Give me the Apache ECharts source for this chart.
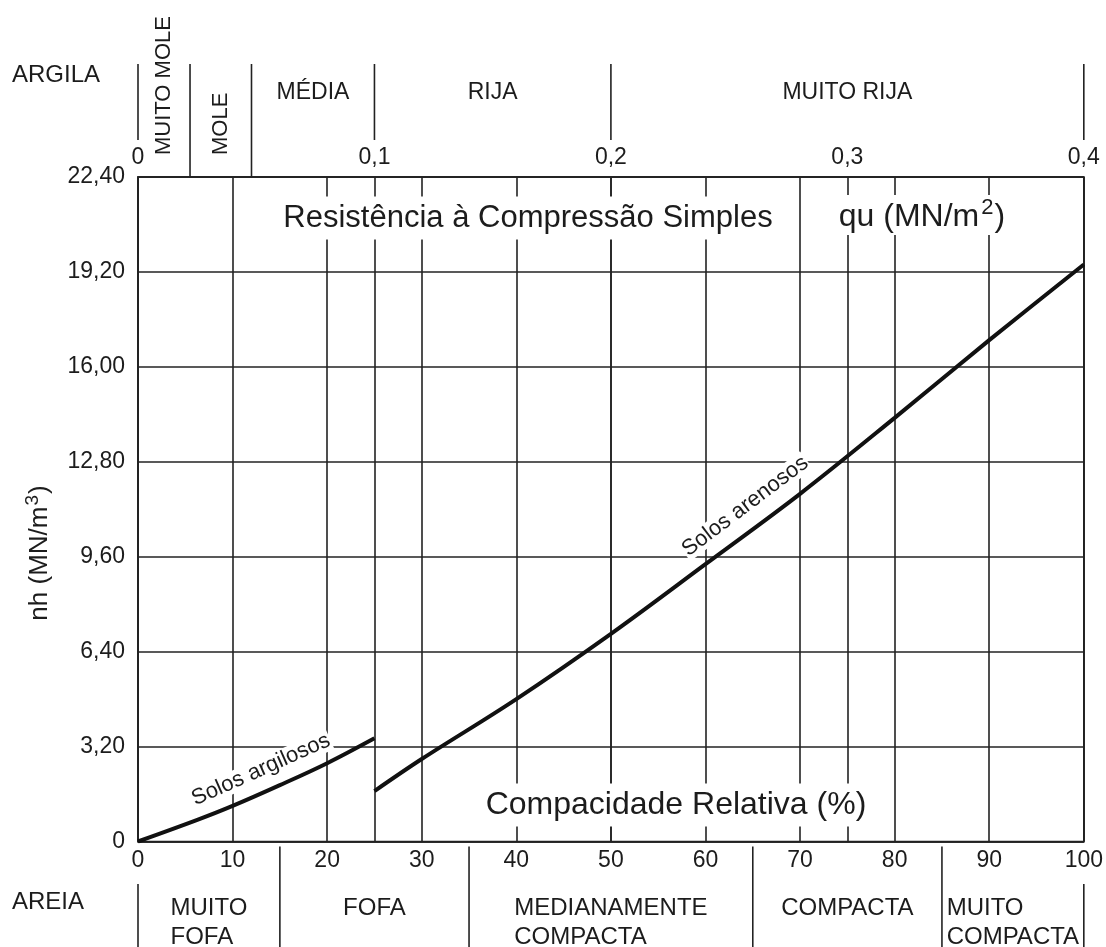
<!DOCTYPE html>
<html>
<head>
<meta charset="utf-8">
<script src="https://cdn.jsdelivr.net/npm/echarts@6/dist/echarts.min.js"></script>
<style>
  html, body { margin: 0; padding: 0; background: #fff; }
  #chart { width: 1106px; height: 947px; }
</style>
</head>
<body>
<div id="chart"></div>
<script>
// Compacidade relativa (%) -> nh (MN/m3)
const argilososX = [0, 6.2, 10, 15, 20, 25];
const argilososY = [0, 0.72, 1.20, 1.90, 2.64, 3.48];
const arenososX = [25, 30, 40, 50, 60, 70, 80, 90, 100];
const arenososY = [1.70, 2.78, 4.80, 7.00, 9.35, 11.72, 14.28, 16.90, 19.45];

// tick labels
const yTickLabels = ['0', '3,20', '6,40', '9,60', '12,80', '16,00', '19,20', '22,40'];
const xTickLabels = ['0', '10', '20', '30', '40', '50', '60', '70', '80', '90', '100'];
const quTickLabels = ['0', '0,1', '0,2', '0,3', '0,4'];

// consistency classes (argila, by qu in MN/m2) and compactness classes (areia, by %)
const argilaLimites = [0, 0.022, 0.048, 0.1, 0.2, 0.4];
const argilaClasses = ['MUITO MOLE', 'MOLE', 'MÉDIA', 'RIJA', 'MUITO RIJA'];
const areiaLimites = [0, 15, 35, 65, 85, 100];
const areiaClasses = [['MUITO', 'FOFA'], ['FOFA'], ['MEDIANAMENTE', 'COMPACTA'], ['COMPACTA'], ['MUITO', 'COMPACTA']];

const FONT = '"Liberation Sans", Arial, Helvetica, sans-serif';
const INK = '#1c1c1c';
const GRID = '#222222';

const chart = echarts.init(document.getElementById('chart'), null, { renderer: 'canvas' });

const axisLineStyle = { color: GRID, width: 1.6 };
const tickFont = { fontSize: 23, color: INK, fontFamily: FONT };

chart.setOption({
  backgroundColor: '#ffffff',
  animation: false,
  grid: {
    left: 138, right: 21, top: 177, bottom: 105.5,
    show: true, borderColor: GRID, borderWidth: 1.6, backgroundColor: 'transparent'
  },
  xAxis: [
    {
      type: 'value', min: 0, max: 100, interval: 10, position: 'bottom',
      axisLine: { show: true, lineStyle: axisLineStyle },
      axisTick: { show: false },
      axisLabel: Object.assign({ margin: 8, formatter: v => xTickLabels[Math.round(v / 10)] }, tickFont),
      splitLine: { show: true, lineStyle: axisLineStyle }
    },
    {
      type: 'value', min: 0, max: 0.4, interval: 0.1, position: 'top',
      axisLine: { show: true, lineStyle: axisLineStyle },
      axisTick: { show: false },
      axisLabel: Object.assign({ margin: 8, formatter: v => quTickLabels[Math.round(v * 10)] }, tickFont),
      splitLine: { show: true, lineStyle: axisLineStyle }
    }
  ],
  yAxis: {
    type: 'value', min: 0, max: 22.4, interval: 3.2,
    axisLine: { show: true, lineStyle: axisLineStyle },
    axisTick: { show: false },
    axisLabel: Object.assign({ margin: 13, formatter: v => yTickLabels[Math.round(v / 3.2)] }, tickFont),
    splitLine: { show: true, lineStyle: axisLineStyle }
  },
  series: [
    {
      name: 'Solos argilosos', type: 'line', xAxisIndex: 0, yAxisIndex: 0,
      data: argilososX.map((x, i) => [x, argilososY[i]]),
      smooth: 0.35, symbol: 'none', z: 5,
      lineStyle: { color: '#111', width: 4 }
    },
    {
      name: 'Solos arenosos', type: 'line', xAxisIndex: 0, yAxisIndex: 0,
      data: arenososX.map((x, i) => [x, arenososY[i]]),
      smooth: 0.35, symbol: 'none', z: 5,
      lineStyle: { color: '#111', width: 4 }
    }
  ]
});

// pixel helpers through the chart's own scales
const px = v => chart.convertToPixel({ xAxisIndex: 0 }, v);
const qx = v => chart.convertToPixel({ xAxisIndex: 1 }, v);
const py = v => chart.convertToPixel({ yAxisIndex: 0 }, v);
const plotTop = py(22.4);
const plotBottom = py(0);

const measureCtx = document.createElement('canvas').getContext('2d');
function textWidth(s, size) {
  measureCtx.font = size + 'px ' + FONT;
  return measureCtx.measureText(s).width;
}

function line(x, y1, y2) {
  return {
    type: 'line', z: 50, silent: true,
    shape: { x1: x, y1: y1, x2: x, y2: y2 },
    style: { stroke: GRID, lineWidth: 1.6 }
  };
}

function label(x, y, text, size, extra) {
  return Object.assign({
    type: 'text', x: x, y: y, z: 60, silent: true,
    style: Object.assign({
      text: text, fontSize: size, fontFamily: FONT, fill: INK,
      align: 'center', verticalAlign: 'middle'
    }, (extra && extra.style) || {})
  }, extra ? { rotation: extra.rotation || 0 } : {});
}

const graphics = [];

// ARGILA band above the plot
graphics.push(label(12, 75, 'ARGILA', 24, { style: { align: 'left' } }));
argilaLimites.forEach(b => {
  const onTick = Math.abs(b * 10 - Math.round(b * 10)) < 1e-9;
  graphics.push(line(qx(b), 64, onTick ? 140 : plotTop));
});
argilaClasses.forEach((name, i) => {
  const x0 = qx(argilaLimites[i]), x1 = qx(argilaLimites[i + 1]);
  const cx = (x0 + x1) / 2;
  if (x1 - x0 < 80) {
    graphics.push(label(cx, 155, name, 22, { rotation: Math.PI / 2, style: { align: 'left' } }));
  } else {
    graphics.push(label(cx, 93, name, 23));
  }
});

// AREIA band below the plot
graphics.push(label(12, 902, 'AREIA', 24, { style: { align: 'left' } }));
areiaLimites.forEach(b => {
  const onTick = b % 10 === 0;
  graphics.push(line(px(b), onTick ? 884 : plotBottom + 5, 947));
});
areiaClasses.forEach((lines, i) => {
  const cx = (px(areiaLimites[i]) + px(areiaLimites[i + 1])) / 2;
  const w = Math.max.apply(null, lines.map(s => textWidth(s, 24)));
  lines.forEach((s, k) => {
    graphics.push(label(cx - w / 2, 908 + k * 29, s, 24, { style: { align: 'left' } }));
  });
});

// titles inside the plot (white boxes over the grid)
const boxStyle = { backgroundColor: '#ffffff', padding: [5, 4], lineHeight: 33 };
graphics.push(label(528, 218, 'Resistência à Compressão Simples', 31, { style: boxStyle }));
graphics.push(label(922, 215, '{a|qu (MN/m}{s|2}{a|)}', 32, {
  style: {
    backgroundColor: '#ffffff', padding: [2, 4, 5, 4],
    rich: {
      a: { fontSize: 32, fontFamily: FONT, fill: INK, lineHeight: 33, padding: [7, 0, 0, 0] },
      s: { fontSize: 22, fontFamily: FONT, fill: INK, verticalAlign: 'top', lineHeight: 22, padding: [0, 1, 0, 2] }
    }
  }
}));
graphics.push(label(676, 805, 'Compacidade Relativa (%)', 32, { style: boxStyle }));

// y axis name
graphics.push(label(37, 553, '{a|nh (MN/m}{s|3}{a|)}', 26, {
  rotation: Math.PI / 2,
  style: {
    rich: {
      a: { fontSize: 26, fontFamily: FONT, fill: INK, lineHeight: 28, padding: [6, 0, 0, 0] },
      s: { fontSize: 19, fontFamily: FONT, fill: INK, verticalAlign: 'top', lineHeight: 19, padding: [0, 1, 0, 1] }
    }
  }
}));

// curve names along the lines
const arg = chart.convertToPixel({ gridIndex: 0 }, [13.0, 2.42]);
graphics.push(label(arg[0], arg[1], 'Solos argilosos', 22, {
  rotation: 24 * Math.PI / 180,
  style: { backgroundColor: '#ffffff', padding: [0, 1] }
}));
const are = chart.convertToPixel({ gridIndex: 0 }, [64.2, 11.3]);
graphics.push(label(are[0], are[1], 'Solos arenosos', 22, {
  rotation: 37 * Math.PI / 180,
  style: { backgroundColor: '#ffffff', padding: [0, 1] }
}));

chart.setOption({ graphic: graphics });
</script>
</body>
</html>
